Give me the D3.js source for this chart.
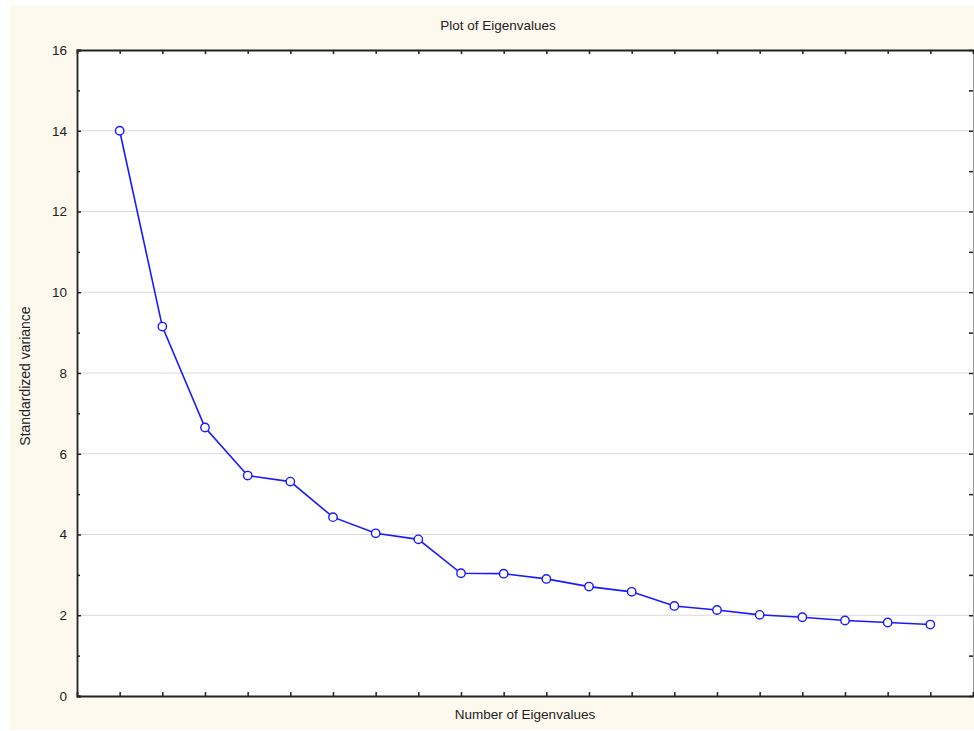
<!DOCTYPE html>
<html>
<head>
<meta charset="utf-8">
<script src="https://d3js.org/d3.v7.min.js"></script>
<style>
  html, body { margin: 0; padding: 0; background: #ffffff; }
  svg { display: block; }
  text { font-family: "Liberation Sans", Arial, sans-serif; fill: #222; }
</style>
</head>
<body>
<script>
// Data
const eigenNumbers = d3.range(1, 21);
const eigenValues = [14.0, 9.15, 6.65, 5.46, 5.31, 4.43, 4.03, 3.88, 3.04, 3.03,
                     2.90, 2.71, 2.58, 2.23, 2.13, 2.01, 1.95, 1.87, 1.82, 1.77];
const yTickValues = [0, 2, 4, 6, 8, 10, 12, 14, 16];
const yMinorValues = [1, 3, 5, 7, 9, 11, 13, 15];
const titleText = "Plot of Eigenvalues";
const xLabelText = "Number of Eigenvalues";
const yLabelText = "Standardized variance";

const W = 974, H = 731;
const m = { left: 77, top: 50, right: 974 - 973, bottom: 731 - 696 };

const svg = d3.select("body").append("svg").attr("width", W).attr("height", H);

// cream background panel
svg.append("rect").attr("x", 10).attr("y", 5).attr("width", W - 10).attr("height", H - 6)
  .attr("fill", "#fef9ef");

const x = d3.scaleLinear().domain([0, 21]).range([m.left, W - m.right]);
const y = d3.scaleLinear().domain([0, 16]).range([H - m.bottom, m.top]);

// plot area
svg.append("rect").attr("x", x(0)).attr("y", y(16))
  .attr("width", x(21) - x(0)).attr("height", y(0) - y(16)).attr("fill", "#ffffff");

// gridlines
svg.append("g").selectAll("line").data(yTickValues.filter(v => v > 0 && v < 16)).join("line")
  .attr("x1", x(0)).attr("x2", x(21))
  .attr("y1", d => y(d)).attr("y2", d => y(d))
  .attr("stroke", "#d9d9d9").attr("stroke-width", 1.2);

// axes (ticks inward)
const tickLen = 4;
const gL = svg.append("g").attr("transform", `translate(${x(0)},0)`)
  .call(d3.axisLeft(y).tickValues(yTickValues).tickSize(-tickLen).tickPadding(10).tickFormat(d3.format("d")));
const gLm = svg.append("g").attr("transform", `translate(${x(0)},0)`)
  .call(d3.axisLeft(y).tickValues(yMinorValues).tickSize(-3).tickFormat(""));
const gR = svg.append("g").attr("transform", `translate(${x(21)},0)`)
  .call(d3.axisRight(y).tickValues(yTickValues.concat(yMinorValues)).tickSize(-tickLen).tickFormat(""));
const gB = svg.append("g").attr("transform", `translate(0,${y(0)})`)
  .call(d3.axisBottom(x).tickValues(eigenNumbers).tickSize(-tickLen).tickFormat(""));
const gT = svg.append("g").attr("transform", `translate(0,${y(16)})`)
  .call(d3.axisTop(x).tickValues(eigenNumbers).tickSize(-tickLen).tickFormat(""));

[gL, gLm, gB, gT].forEach(g => {
  g.select(".domain").attr("stroke", "#222").attr("stroke-width", 1.8);
  g.selectAll(".tick line").attr("stroke", "#222").attr("stroke-width", 1.5);
});
gR.select(".domain").attr("stroke", "#999").attr("stroke-width", 1);
gR.selectAll(".tick line").attr("stroke", "#222").attr("stroke-width", 1.5);
gLm.select(".domain").remove();
gL.selectAll(".tick text").attr("font-size", "13.5px").attr("fill", "#222")
  .attr("font-family", "'Liberation Sans', Arial, sans-serif");

// line
const pts = eigenNumbers.map((n, i) => [n, eigenValues[i]]);
svg.append("path").datum(pts)
  .attr("fill", "none").attr("stroke", "#1a1aff").attr("stroke-width", 1.6)
  .attr("d", d3.line().x(d => x(d[0])).y(d => y(d[1])));

svg.append("g").selectAll("circle").data(pts).join("circle")
  .attr("cx", d => x(d[0])).attr("cy", d => y(d[1])).attr("r", 4.2)
  .attr("fill", "#ffffff").attr("stroke", "#1a1aff").attr("stroke-width", 1.4);

// titles
svg.append("text").attr("x", 498).attr("y", 30).attr("text-anchor", "middle")
  .attr("font-size", "13.5px").text(titleText);
svg.append("text").attr("x", (x(0) + x(21)) / 2).attr("y", 719).attr("text-anchor", "middle")
  .attr("font-size", "13.5px").text(xLabelText);
svg.append("text").attr("transform", `translate(30,376) rotate(-90)`).attr("text-anchor", "middle")
  .attr("font-size", "14px").text(yLabelText);
</script>
</body>
</html>
